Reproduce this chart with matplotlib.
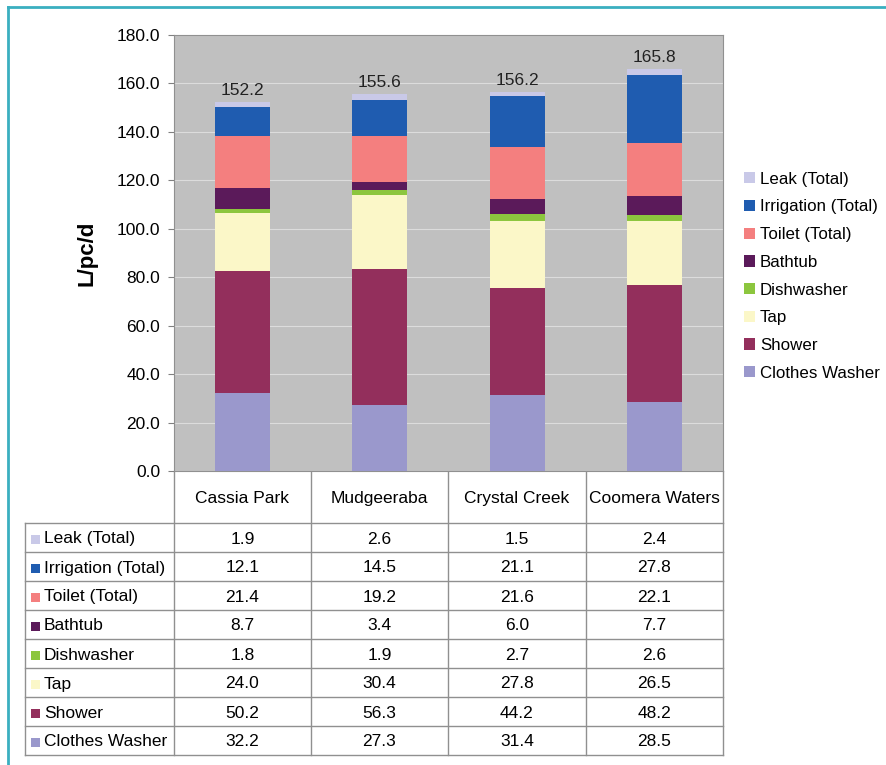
#!/usr/bin/env python3
# -*- coding: utf-8 -*-

import matplotlib
matplotlib.use('Agg')
import matplotlib.pyplot as plt
from matplotlib.patches import Patch, Rectangle
import numpy as np

plt.rcParams['font.family'] = ['Liberation Sans', 'DejaVu Sans']

# data
sites           = ['Cassia Park', 'Mudgeeraba', 'Crystal Creek', 'Coomera Waters']
totals          = [152.2, 155.6, 156.2, 165.8]
uses            = ['Clothes Washer', 'Shower', 'Tap', 'Dishwasher',
                   'Bathtub', 'Toilet (Total)', 'Irrigation (Total)', 'Leak (Total)']
clothes_washer  = [32.2, 27.3, 31.4, 28.5]
shower          = [50.2, 56.3, 44.2, 48.2]
tap             = [24.0, 30.4, 27.8, 26.5]
dishwasher      = [1.8, 1.9, 2.7, 2.6]
bathtub         = [8.7, 3.4, 6.0, 7.7]
toilet          = [21.4, 19.2, 21.6, 22.1]
irrigation      = [12.1, 14.5, 21.1, 27.8]
leak            = [1.9, 2.6, 1.5, 2.4]
series          = [clothes_washer, shower, tap, dishwasher,
                   bathtub, toilet, irrigation, leak]
colours         = ['#9a98cc', '#932f5c', '#fbf7c8', '#8cc63e',
                   '#5b1a5a', '#f47f7f', '#1f5cb0', '#c9c9e8']

W, H = 887, 765
fs = 12.5
fig = plt.figure(figsize=(W/100, H/100), dpi=100)

# background axes in pixel units for frame + table
bg = fig.add_axes([0, 0, 1, 1])
bg.set_xlim(0, W)
bg.set_ylim(H, 0)
bg.axis('off')
bg.plot([8, 8], [7, H], color='#3aafc0', lw=2)
bg.plot([8, W], [7, 7], color='#3aafc0', lw=2)

# plot area
x0, x1, y0, y1 = 174, 723, 35, 471
ax = fig.add_axes([x0/W, 1 - y1/H, (x1 - x0)/W, (y1 - y0)/H])
ax.set_facecolor('#c0c0c0')
x = np.arange(len(sites))
bottom = np.zeros(len(sites))
for vals, col, name in zip(series, colours, uses):
    ax.bar(x, vals, 0.4, bottom=bottom, color=col, label=name, zorder=3)
    bottom += np.array(vals)
for xi, t, b in zip(x, totals, bottom):
    ax.annotate('%.1f' % t, (xi, b), xytext=(0, 3), textcoords='offset points',
                ha='center', va='bottom', fontsize=fs, color='#222222')
ax.set_xlim(-0.5, len(sites) - 0.5)
ax.set_ylim(0, 180)
ax.set_yticks(np.arange(0, 181, 20))
ax.set_yticklabels(['%.1f' % v for v in np.arange(0, 181, 20)], fontsize=fs)
ax.set_xticks([])
ax.yaxis.grid(True, color='#dcdcdc', lw=0.8, zorder=0)
ax.tick_params(axis='y', length=4, color='#808080', pad=6)
for s in ax.spines.values():
    s.set_color('#909090')
ax.set_ylabel('L/pc/d', fontsize=16, fontweight='bold', labelpad=14)

# legend
handles = [Patch(facecolor=c, label=n) for c, n in zip(colours[::-1], uses[::-1])]
fig.legend(handles=handles, loc='upper left', bbox_to_anchor=(737/W, 1 - 165/H),
           frameon=False, fontsize=12.2, handlelength=0.65, handleheight=0.65,
           handletextpad=0.3, labelspacing=0.75, borderaxespad=0)

# data table
col_edges = [174, 311, 448, 586, 723]
row_top = 523
row_h = 29
lc = '#909090'
for cx in col_edges:
    bg.plot([cx, cx], [y1, row_top + 8*row_h], color=lc, lw=1)
bg.plot([25, 25], [row_top, row_top + 8*row_h], color=lc, lw=1)
for i in range(9):
    yy = row_top + i*row_h
    bg.plot([25, 723], [yy, yy], color=lc, lw=1)
for j, name in enumerate(sites):
    cx = (col_edges[j] + col_edges[j+1]) / 2
    bg.text(cx, (y1 + row_top) / 2, name, ha='center', va='center_baseline', fontsize=fs)
for i, (name, col, vals) in enumerate(zip(uses[::-1], colours[::-1], series[::-1])):
    cy = row_top + (i + 0.5)*row_h
    bg.add_patch(Rectangle((31, cy - 3), 9, 9, facecolor=col, edgecolor='none'))
    bg.text(44, cy, name, ha='left', va='center_baseline', fontsize=fs)
    for j, v in enumerate(vals):
        cx = (col_edges[j] + col_edges[j+1]) / 2
        bg.text(cx, cy, '%.1f' % v, ha='center', va='center_baseline', fontsize=fs)

fig.savefig('out.png', dpi=100)
